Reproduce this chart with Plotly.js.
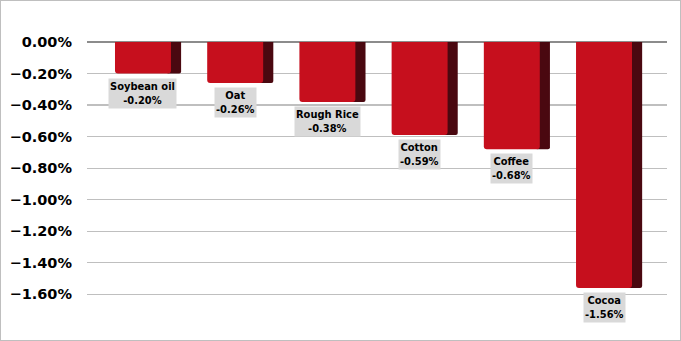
<!DOCTYPE html>
<html>
<head>
<meta charset="utf-8">
<script src="https://cdn.plot.ly/plotly-3.0.1.min.js"></script>
<style>
html,body{margin:0;padding:0;background:#fff;}
#chart{width:679px;height:339px;border:1px solid #BFBFBF;}
</style>
</head>
<body>
<div id="chart"></div>
<script>
const categories = ["Soybean oil", "Oat", "Rough Rice", "Cotton", "Coffee", "Cocoa"];
const values = [-0.0020, -0.0026, -0.0038, -0.0059, -0.0068, -0.0156];
const tickVals = [0, -0.002, -0.004, -0.006, -0.008, -0.010, -0.012, -0.014, -0.016];

const idx = categories.map((c, i) => i);
const frontW = 0.607;

const side = {
  type: 'bar', x: idx, y: values,
  width: 0.16, offset: frontW / 2 - 0.05,
  marker: {color: '#4A0810', cornerradius: 2, line: {width: 0}},
  hoverinfo: 'skip'
};
const front = {
  type: 'bar', x: idx, y: values,
  width: frontW, offset: -frontW / 2,
  marker: {color: '#C60F1D', cornerradius: 3, line: {width: 0}},
  hoverinfo: 'skip'
};

const annotations = categories.map((c, i) => ({
  x: i, y: values[i], xref: 'x', yref: 'y',
  text: '<b>' + c + '<br>' + (values[i] * 100).toFixed(2) + '%</b>',
  showarrow: false, xanchor: 'center', yanchor: 'top', yshift: -4,
  bgcolor: '#D9D9D9', borderpad: 1,
  font: {family: 'DejaVu Sans Condensed, DejaVu Sans', size: 11, color: '#000'}
}));

const layout = {
  width: 679, height: 339,
  margin: {l: 86, r: 13, t: 41, b: 22},
  paper_bgcolor: '#fff', plot_bgcolor: '#fff',
  barmode: 'overlay',
  showlegend: false,
  xaxis: {range: [-0.607, 5.683], showgrid: false, zeroline: false, showticklabels: false, ticks: '', fixedrange: true},
  yaxis: {
    range: [-0.0175, 0], tickvals: tickVals, tickformat: '.2%',
    showgrid: true, gridcolor: '#BFBFBF', gridwidth: 1.3,
    zeroline: true, zerolinecolor: '#8C8C8C', zerolinewidth: 1.5,
    ticks: '', ticklabelstandoff: 14,
    tickfont: {family: 'DejaVu Sans', size: 14.5, color: '#000', weight: 'bold'}
  },
  annotations: annotations
};

Plotly.newPlot('chart', [side, front], layout, {displayModeBar: false, staticPlot: true});
</script>
</body>
</html>
